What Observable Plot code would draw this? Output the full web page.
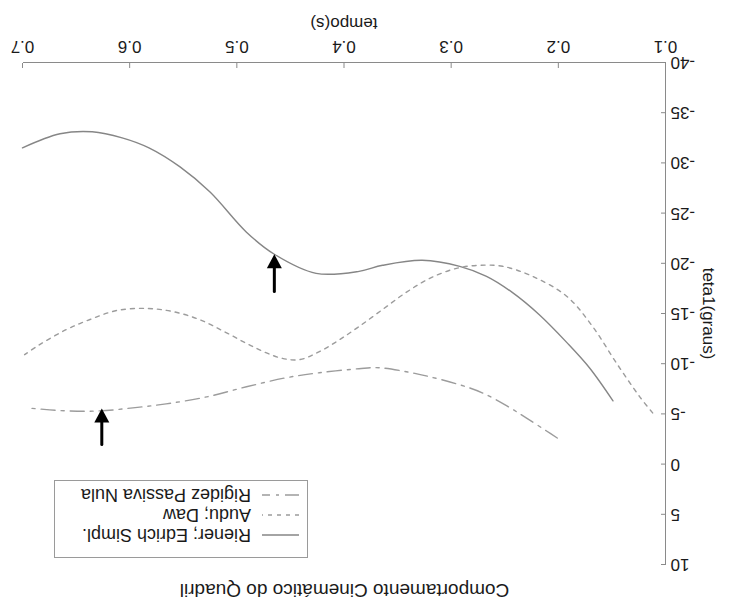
<!DOCTYPE html>
<html>
<head>
<meta charset="utf-8">
<script src="https://cdn.jsdelivr.net/npm/d3@7"></script>
<script src="https://cdn.jsdelivr.net/npm/@observablehq/plot@0.6"></script>
<style>
  html, body { margin: 0; padding: 0; background: #fff; }
  #wrap {
    position: relative; width: 729px; height: 603px; overflow: hidden;
    transform: rotate(180deg); transform-origin: 50% 50%;
    font-family: "Liberation Sans", Arial, sans-serif; color: #1a1a1a; background: #fff;
  }
  #title {
    height: 26px; line-height: 26px; font-size: 19px; text-align: center;
    padding-left: 63px; padding-right: 23px; box-sizing: border-box; width: 729px;
  }
  #legend {
    position: absolute; left: 421px; top: 45px; width: 254px; box-sizing: border-box;
    border: 1px solid #9a9a9a; background: #fff; padding: 12px 6px 4px 8px;
    font-size: 18px; line-height: 20px;
  }
  #legend .row { display: flex; align-items: center; height: 20px; white-space: nowrap; }
  #legend svg { margin-right: 11px; flex: none; }
  #chart svg { display: block; }
</style>
</head>
<body>
<div id="wrap">
  <div id="title"></div>
  <div id="chart"></div>
  <div id="legend"></div>
</div>
<script>
// ---- data ----
const titleText = "Comportamento Cinemático do Quadril";
const xLabel = "tempo(s)";
const yLabel = "teta1(graus)";
const xTicks = [0.1, 0.2, 0.3, 0.4, 0.5, 0.6, 0.7];
const yTicks = [-40, -35, -30, -25, -20, -15, -10, -5, 0, 5, 10];
const seriesNames = ["Riener; Edrich Simpl.", "Audu; Daw", "Rigidez Passiva Nula"];

const rienerT = [0.149, 0.171, 0.192, 0.218, 0.243, 0.267, 0.292, 0.327, 0.364, 0.386, 0.426, 0.465, 0.491, 0.525, 0.553, 0.582, 0.607, 0.635, 0.665, 0.700];
const rienerV = [-6.3, -9.6, -12.1, -14.9, -17.1, -18.7, -19.7, -20.3, -19.8, -19.2, -19.0, -20.9, -23.1, -27.1, -29.6, -31.5, -32.5, -33.1, -32.9, -31.5];

const auduT = [0.112, 0.124, 0.146, 0.168, 0.192, 0.224, 0.252, 0.274, 0.295, 0.320, 0.342, 0.364, 0.386, 0.404, 0.423, 0.442, 0.460, 0.485, 0.510, 0.535, 0.560, 0.584, 0.612, 0.637, 0.659, 0.684, 0.698];
const auduV = [-5.1, -6.7, -10.1, -13.7, -16.7, -18.7, -19.7, -19.8, -19.5, -18.5, -17.1, -15.4, -13.7, -12.4, -11.2, -10.4, -10.6, -11.7, -13.1, -14.4, -15.2, -15.5, -15.3, -14.4, -13.4, -11.9, -10.9];

const rigidezT = [0.201, 0.211, 0.230, 0.248, 0.271, 0.292, 0.320, 0.342, 0.367, 0.386, 0.423, 0.454, 0.491, 0.528, 0.566, 0.597, 0.628, 0.659, 0.696];
const rigidezV = [-2.6, -3.3, -4.6, -5.8, -7.1, -7.9, -8.7, -9.2, -9.6, -9.5, -9.1, -8.6, -7.7, -6.7, -6.0, -5.6, -5.3, -5.3, -5.6];

// arrows: time, tail value, tip value
const arrowT = [0.465, 0.626];
const arrowFrom = [-17.2, -1.95];
const arrowTo = [-20.9, -5.54];

// ---- build tables ----
const zip = (T, V) => T.map((t, i) => ({t, v: V[i]}));
const riener = zip(rienerT, rienerV);
const audu = zip(auduT, auduV);
const rigidez = zip(rigidezT, rigidezV);
const arrows = arrowT.map((t, i) => ({t, from: arrowFrom[i], to: arrowTo[i]}));

const styles = [
  {stroke: "#868686", dash: null},
  {stroke: "#9c9c9c", dash: "4,5"},
  {stroke: "#9c9c9c", dash: "14,6,3,6"}
];

const W = 729, H = 577, mL = 63, mR = 23, mT = 12, mB = 63;
const plotW = W - mL - mR, plotH = H - mT - mB;
const axisColor = "#8a8a8a";
const font = "'Liberation Sans', Arial, sans-serif";

const downTriangle = {
  draw(ctx) {
    ctx.moveTo(0, 0);
    ctx.lineTo(-7.5, -14);
    ctx.lineTo(7.5, -14);
    ctx.closePath();
  }
};

const chart = Plot.plot({
  width: W, height: H,
  marginLeft: mL, marginRight: mR, marginTop: mT, marginBottom: mB,
  style: {fontFamily: font, fontSize: "17px", color: "#1a1a1a", background: "#fff", overflow: "visible"},
  x: {domain: [0.1, 0.7], label: xLabel, labelArrow: "none"},
  y: {domain: [-40, 10], label: yLabel, labelArrow: "none"},
  marks: [
    Plot.axisX(xTicks, {tickSize: 0, tickPadding: 9, tickFormat: d3.format(".1f"), label: xLabel, labelArrow: "none", labelAnchor: "center", labelOffset: 45, fontSize: 17}),
    Plot.axisY(yTicks, {tickSize: 0, tickPadding: 5, tickFormat: d => String(d), label: yLabel, labelArrow: "none", labelAnchor: "center", labelOffset: 50, fontSize: 17}),
    Plot.ruleX(xTicks, {x: d => d, stroke: axisColor, insetTop: plotH - 5}),
    Plot.ruleY(yTicks, {y: d => d, stroke: axisColor, insetRight: plotW - 5}),
    Plot.ruleY([-40], {stroke: axisColor}),
    Plot.ruleX([0.1], {stroke: axisColor}),
    Plot.line(riener, {x: "t", y: "v", stroke: styles[0].stroke, strokeWidth: 1.4, curve: "catmull-rom"}),
    Plot.line(audu, {x: "t", y: "v", stroke: styles[1].stroke, strokeWidth: 1.4, strokeDasharray: styles[1].dash, curve: "catmull-rom"}),
    Plot.line(rigidez, {x: "t", y: "v", stroke: styles[2].stroke, strokeWidth: 1.4, strokeDasharray: styles[2].dash, curve: "catmull-rom"}),
    Plot.arrow(arrows, {x1: "t", x2: "t", y1: "from", y2: "to", stroke: "#000", strokeWidth: 3, headLength: 0, insetEnd: 8}),
    Plot.dot(arrows, {x: "t", y: "to", symbol: downTriangle, fill: "#000", stroke: "none"})
  ]
});

document.getElementById("title").textContent = titleText;
document.getElementById("chart").appendChild(chart);

const legend = document.getElementById("legend");
seriesNames.forEach((name, i) => {
  const row = document.createElement("div");
  row.className = "row";
  const dash = styles[i].dash ? ` stroke-dasharray="${styles[i].dash}"` : "";
  row.innerHTML = `<svg width="37" height="10"><line x1="0" y1="5" x2="37" y2="5" stroke="${styles[i].stroke}" stroke-width="1.4"${dash}/></svg>`;
  const span = document.createElement("span");
  span.textContent = name;
  row.appendChild(span);
  legend.appendChild(row);
});
</script>
</body>
</html>
